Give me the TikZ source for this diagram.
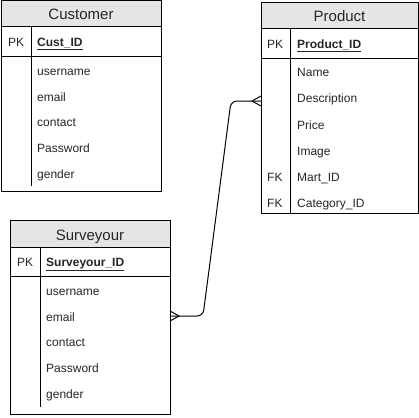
\documentclass[tikz,border=0pt]{standalone}
\usepackage{fontspec}
\setmainfont{Liberation Sans}
\begin{document}
\begin{tikzpicture}[x=1pt,y=-1pt,
  box/.style={draw=black,line width=1pt,fill=white},
  hdr/.style={draw=black,line width=1pt,fill=black!10},
  sep/.style={draw=black,line width=1pt},
  title/.style={font=\fontsize{15}{17}\selectfont,text=black!85,inner sep=0pt,anchor=base,yshift=-6pt},
  attr/.style={font=\fontsize{12}{14}\selectfont,text=black!85,anchor=base west,inner sep=0pt,yshift=-4.5pt},
  keyattr/.style={attr,font=\fontsize{12}{14}\selectfont\bfseries},
  rel/.style={draw=black,line width=1pt,rounded corners=6pt},
  foot/.style={draw=black,line width=1pt}]
\useasboundingbox (0,0) rectangle (419,417);
\fill[white] (0,0) rectangle (419,417);

% ---------- Customer ----------
\node[box,minimum width=160pt,minimum height=190pt,anchor=north west,inner sep=0pt] (cust) at (1,1) {};
\path[hdr] (1,1) rectangle (161,27);
\node[title] (custT) at (81,14) {Customer};
\draw[sep] (1,57) -- (161,57);
\draw[sep] (31,27) -- (31,186);
\node[attr] (custPK) at (8,42) {PK};
\node[keyattr] (custID) at (37,42) {\underline{Cust\_ID}};
\node[attr] (cu1) at (37,71) {username};
\node[attr] (cu2) at (37,97) {email};
\node[attr] (cu3) at (37,122) {contact};
\node[attr] (cu4) at (37,148) {Password};
\node[attr] (cu5) at (37,174) {gender};

% ---------- Product ----------
\node[box,minimum width=157pt,minimum height=210pt,anchor=north west,inner sep=0pt] (prod) at (261,3) {};
\path[hdr] (261,3) rectangle (418,29);
\node[title] (prodT) at (339.5,16) {Product};
\draw[sep] (261,59) -- (418,59);
\draw[sep] (290,29) -- (290,213);
\node[attr] (prodPK) at (267,44) {PK};
\node[keyattr] (prodID) at (297,44) {\underline{Product\_ID}};
\node[attr] (pr1) at (297,72) {Name};
\node[attr] (pr2) at (297,98) {Description};
\node[attr] (pr3) at (297,125) {Price};
\node[attr] (pr4) at (297,151) {Image};
\node[attr] (prFK1) at (267,177) {FK};
\node[attr] (pr5) at (297,177) {Mart\_ID};
\node[attr] (prFK2) at (267,203) {FK};
\node[attr] (pr6) at (297,203) {Category\_ID};

% ---------- Surveyour ----------
\node[box,minimum width=160pt,minimum height=194pt,anchor=north west,inner sep=0pt] (surv) at (10,220) {};
\path[hdr] (10,220) rectangle (170,247);
\node[title] (survT) at (90,234) {Surveyour};
\draw[sep] (10,276) -- (170,276);
\draw[sep] (40,247) -- (40,407);
\node[attr] (survPK) at (17,262) {PK};
\node[keyattr] (survID) at (46,262) {\underline{Surveyour\_ID}};
\node[attr] (su1) at (46,291) {username};
\node[attr] (su2) at (46,317) {email};
\node[attr] (su3) at (46,342) {contact};
\node[attr] (su4) at (46,368) {Password};
\node[attr] (su5) at (46,394) {gender};

% ---------- Relationship ----------
\coordinate (a) at (surv.east |- 0,316);
\coordinate (b) at (prod.west |- 0,101);
\draw[rel] (a) -- (203,316) -- (231,101) -- (b);
% crow's feet
\draw[foot] (170,311) -- (179,316) -- (170,321);
\draw[foot] (261,96) -- (252,101) -- (261,106);
\end{tikzpicture}
\end{document}
